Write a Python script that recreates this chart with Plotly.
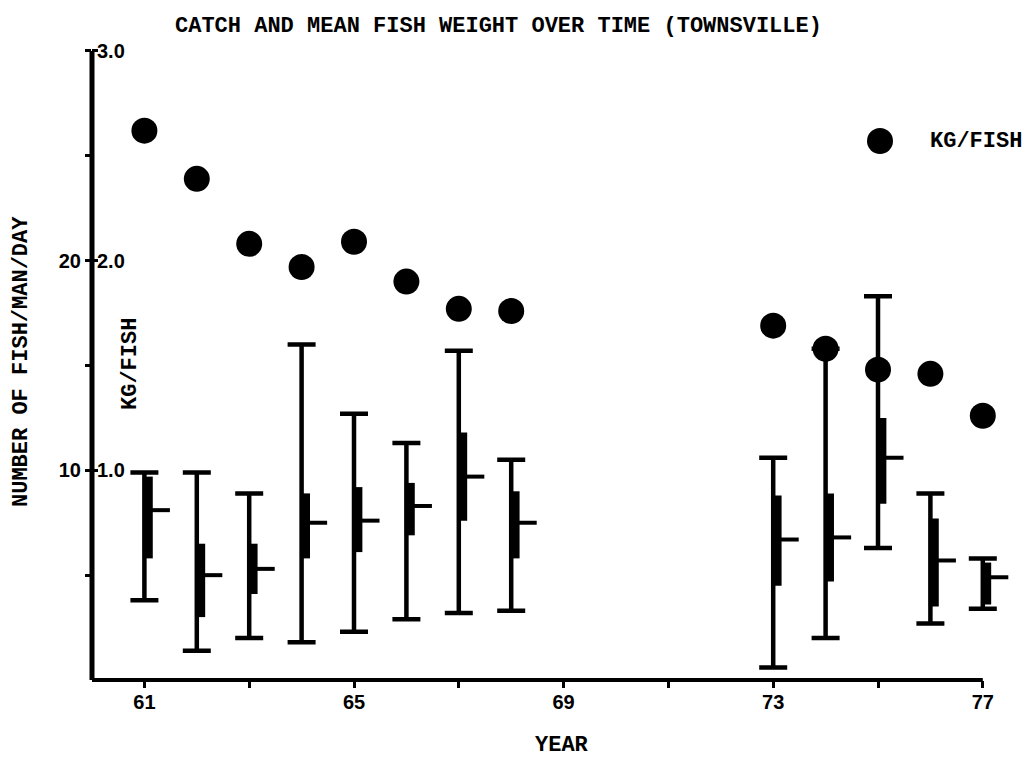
import plotly.graph_objects as go

# ---- data ----
years = [61, 62, 63, 64, 65, 66, 67, 68, 73, 74, 75, 76, 77]
catch_max = [9.9, 9.9, 8.9, 16.0, 12.7, 11.3, 15.7, 10.5, 10.6, 15.8, 18.3, 8.9, 5.8]
catch_min = [3.8, 1.4, 2.0, 1.8, 2.3, 2.9, 3.2, 3.3, 0.6, 2.0, 6.3, 2.7, 3.4]
band_hi = [9.7, 6.5, 6.5, 8.9, 9.2, 9.4, 11.8, 9.0, 8.8, 8.9, 12.5, 7.7, 5.6]
band_lo = [5.8, 3.0, 4.1, 5.8, 6.1, 6.9, 7.6, 5.8, 4.5, 4.7, 8.4, 3.5, 3.6]
catch_mean = [8.1, 5.0, 5.3, 7.5, 7.6, 8.3, 9.7, 7.5, 6.7, 6.8, 10.6, 5.7, 4.9]
kg_per_fish = [2.62, 2.39, 2.08, 1.97, 2.09, 1.90, 1.77, 1.76, 1.69, 1.58, 1.48, 1.46, 1.26]

x_tickvals = [61, 63, 65, 67, 69, 71, 73, 75, 77]
x_ticktext = ["61", "", "65", "", "69", "", "73", "", "77"]
y_tickvals = [5, 10, 15, 20, 25, 30]
y_ticktext = ["", "10", "", "20", "", ""]
y2_tickvals = [1, 2, 3]
y2_ticktext = ["1.0", "2.0", "3.0"]

MONO = "Liberation Mono"
SANS = "Liberation Sans"

L, R, T, B = 92, 15, 30, 80
W = 1024 - L - R
H = 760 - T - B


def px(xp):
    return (xp - L) / W


def py(yp):
    return (760 - B - yp) / H


fig = go.Figure()

# thick band (slightly right of the range line)
fig.add_trace(go.Bar(
    x=years,
    base=band_lo,
    y=[h - l for h, l in zip(band_hi, band_lo)],
    width=0.19,
    offset=-0.03,
    marker=dict(color="black", line=dict(width=0)),
    cliponaxis=False,
    showlegend=False,
))

# min-max range with caps
fig.add_trace(go.Scatter(
    x=years,
    y=catch_mean,
    mode="markers",
    marker=dict(size=1, opacity=0),
    error_y=dict(
        type="data", symmetric=False,
        array=[h - m for h, m in zip(catch_max, catch_mean)],
        arrayminus=[m - l for m, l in zip(catch_mean, catch_min)],
        width=14, thickness=4.5, color="black",
    ),
    cliponaxis=False,
    showlegend=False,
))

# mean tick to the right
fig.add_trace(go.Scatter(
    x=[y + 0.26 for y in years],
    y=catch_mean,
    mode="markers",
    marker=dict(symbol="line-ew", size=17, line=dict(width=4, color="black")),
    cliponaxis=False,
    showlegend=False,
))

# kg per fish dots
fig.add_trace(go.Scatter(
    x=years,
    y=kg_per_fish,
    yaxis="y2",
    mode="markers",
    marker=dict(symbol="circle", size=26, color="black"),
    cliponaxis=False,
    showlegend=False,
))

tickfont = dict(family=SANS, size=20, color="black", weight="bold")
textfont = dict(family=MONO, size=22, color="black", weight="bold")

fig.update_layout(
    width=1024, height=760,
    margin=dict(l=L, r=R, t=T, b=B),
    paper_bgcolor="white", plot_bgcolor="white",
    barmode="overlay",
    xaxis=dict(
        range=[60, 77.5], showgrid=False, zeroline=False, showline=False,
        tickmode="array", tickvals=x_tickvals, ticktext=x_ticktext,
        ticks="outside", ticklen=7, tickwidth=3, tickcolor="black",
        ticklabelstandoff=-3,
        tickfont=tickfont,
    ),
    yaxis=dict(
        range=[0, 31], showgrid=False, zeroline=False, showline=False,
        tickmode="array", tickvals=y_tickvals, ticktext=y_ticktext,
        ticks="outside", ticklen=6, tickwidth=3, tickcolor="black",
        ticklabelstandoff=0,
        tickfont=tickfont,
    ),
    yaxis2=dict(
        range=[0, 3.1], overlaying="y", side="left", anchor="x",
        showgrid=False, zeroline=False, showline=False,
        tickmode="array", tickvals=y2_tickvals, ticktext=y2_ticktext,
        ticks="inside", ticklen=6, tickwidth=3, tickcolor="black",
        ticklabelposition="inside",
        tickfont=tickfont,
    ),
    annotations=[
        dict(text="CATCH AND MEAN FISH WEIGHT OVER TIME (TOWNSVILLE)",
             xref="paper", yref="paper", x=px(498), y=py(27),
             xanchor="center", yanchor="middle", showarrow=False, font=textfont),
        dict(text="NUMBER OF FISH/MAN/DAY", textangle=-90,
             xref="paper", yref="paper", x=px(21), y=py(362),
             xanchor="center", yanchor="middle", showarrow=False, font=textfont),
        dict(text="KG/FISH", textangle=-90,
             xref="paper", yref="paper", x=px(130), y=py(364),
             xanchor="center", yanchor="middle", showarrow=False, font=textfont),
        dict(text="YEAR",
             xref="paper", yref="paper", x=px(562), y=py(745),
             xanchor="center", yanchor="middle", showarrow=False, font=textfont),
        dict(text="KG/FISH",
             xref="paper", yref="paper", x=px(928), y=py(141),
             xanchor="left", yanchor="middle", showarrow=False, font=textfont),
    ],
    shapes=[
        # axis lines spanning the scales 60-77 and 0-30
        dict(type="line", xref="x", yref="paper", x0=60, x1=77, y0=0, y1=0,
             line=dict(color="black", width=4), layer="above"),
        dict(type="line", xref="paper", yref="y", x0=0, x1=0, y0=0, y1=30,
             line=dict(color="black", width=5), layer="above"),
        # legend symbol
        dict(type="circle", xref="paper", yref="paper",
             x0=px(867), x1=px(893), y0=py(154), y1=py(128),
             fillcolor="black", line=dict(width=0)),
    ],
)

fig.write_html("out.html")
